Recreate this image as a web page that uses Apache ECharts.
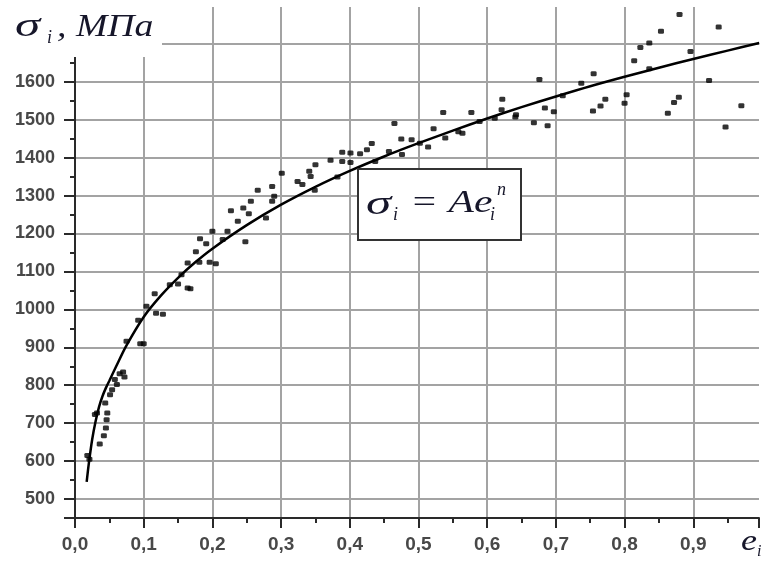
<!DOCTYPE html>
<html>
<head>
<meta charset="utf-8">
<script src="https://cdn.jsdelivr.net/npm/echarts@6/dist/echarts.min.js"></script>
<style>
  html, body { margin: 0; padding: 0; background: #fff; }
  #main { width: 762px; height: 561px; }
</style>
</head>
<body>
<div id="main"></div>
<script>
// точки эксперимента: интенсивность деформаций e_i
const pointStrain = [
  0.018, 0.021, 0.029, 0.032, 0.036, 0.042, 0.045, 0.046, 0.047, 0.044,
  0.051, 0.054, 0.058, 0.061, 0.065, 0.070, 0.072, 0.075, 0.092, 0.095,
  0.100, 0.104, 0.116, 0.118, 0.128, 0.138, 0.150, 0.155, 0.164, 0.168,
  0.164, 0.176, 0.182, 0.191, 0.181, 0.196, 0.205, 0.200, 0.215, 0.222,
  0.227, 0.237, 0.245, 0.248, 0.253, 0.256, 0.266, 0.278, 0.287, 0.290,
  0.287, 0.301, 0.324, 0.331, 0.341, 0.343, 0.350, 0.349, 0.372, 0.382,
  0.389, 0.389, 0.401, 0.401, 0.415, 0.425, 0.432, 0.437, 0.457, 0.465,
  0.475, 0.476, 0.490, 0.502, 0.514, 0.522, 0.536, 0.539, 0.558, 0.564,
  0.577, 0.589, 0.611, 0.622, 0.621, 0.642, 0.641, 0.668, 0.676, 0.684,
  0.688, 0.697, 0.710, 0.737, 0.755, 0.754, 0.765, 0.772, 0.800, 0.803,
  0.814, 0.823, 0.836, 0.836, 0.853, 0.863, 0.872, 0.879, 0.880, 0.896,
  0.923, 0.937, 0.947, 0.970
];
// интенсивность напряжений sigma_i, МПа
const pointStress = [
  615, 605, 723, 727, 645, 667, 687, 709, 727, 753,
  775, 788, 815, 802, 830, 835, 822, 916, 971, 909,
  909, 1008, 1041, 990, 987, 1065, 1067, 1091, 1056, 1054,
  1122, 1152, 1186, 1173, 1124, 1124, 1120, 1206, 1184, 1206,
  1260, 1232, 1267, 1178, 1252, 1285, 1314, 1241, 1324, 1298,
  1285, 1359, 1337, 1329, 1364, 1350, 1381, 1314, 1393, 1349,
  1414, 1390, 1412, 1387, 1410, 1421, 1437, 1390, 1416, 1490,
  1449, 1408, 1447, 1438, 1428, 1476, 1519, 1452, 1468, 1464,
  1519, 1495, 1504, 1554, 1526, 1513, 1507, 1492, 1606, 1531,
  1484, 1521, 1563, 1596, 1621, 1523, 1536, 1554, 1543, 1566,
  1655, 1690, 1702, 1634, 1733, 1517, 1545, 1559, 1777, 1680,
  1603, 1744, 1481, 1537
];
// аппроксимирующая кривая
const curveStrain = [0.017, 0.020, 0.025, 0.030, 0.035, 0.040, 0.045, 0.050, 0.060, 0.075,
  0.100, 0.125, 0.150, 0.175, 0.200, 0.250, 0.300, 0.350, 0.400, 0.450,
  0.500, 0.550, 0.600, 0.650, 0.700, 0.750, 0.800, 0.850, 0.900, 0.950, 0.996];
const curveStress = [545, 592, 657, 705, 743, 771, 793, 812, 850, 905,
  980, 1036, 1083, 1124, 1160, 1222, 1276, 1323, 1365, 1403,
  1438, 1471, 1503, 1533, 1561, 1588, 1613, 1637, 1660, 1682, 1702];

const myChart = echarts.init(document.getElementById('main'));

const scatterData = pointStrain.map((v, k) => [v, pointStress[k]]);
const curveData = curveStrain.map((v, k) => [v, curveStress[k]]);

const gridColor = '#a3a3a3';
const axisColor = '#2a2a2a';
const serif = 'Liberation Serif';
const ink = '#16162a';

myChart.setOption({
  animation: false,
  grid: { left: 75, right: 0, top: 7, bottom: 43 },
  xAxis: {
    type: 'value',
    min: 0,
    max: 0.9957,
    interval: 0.1,
    axisLine: { show: true, lineStyle: { color: axisColor, width: 2 } },
    axisTick: { show: true, inside: false, length: 10, lineStyle: { color: axisColor, width: 2 } },
    minorTick: { show: true, splitNumber: 2, length: 5, lineStyle: { color: axisColor, width: 2 } },
    splitLine: { show: true, showMaxLine: false, lineStyle: { color: gridColor, width: 2 } },
    axisLabel: {
      margin: 17,
      fontSize: 19,
      fontWeight: 'bold',
      fontFamily: 'Liberation Sans',
      color: '#484848',
      formatter: (v) => (v > 0.95 ? '' : v.toFixed(1).replace('.', ',')),
    },
  },
  yAxis: [
    {
      type: 'value',
      min: 450,
      max: 1797,
      minInterval: 100,
      maxInterval: 100,
      axisLine: { show: true, lineStyle: { color: axisColor, width: 2 } },
      axisTick: { show: true, inside: false, length: 11, lineStyle: { color: axisColor, width: 2 } },
      splitLine: { show: true, showMinLine: false, showMaxLine: false, lineStyle: { color: gridColor, width: 2 } },
      axisLabel: {
        margin: 20,
        fontSize: 18,
        fontWeight: 'bold',
        fontFamily: 'Liberation Sans',
        color: '#484848',
        formatter: (v) => (v % 100 === 0 && v <= 1600 ? String(v) : ''),
      },
    },
    {
      // короткие промежуточные риски через 50 МПа
      type: 'value',
      min: 450,
      max: 1797,
      interval: 50,
      position: 'left',
      axisLine: { show: false },
      axisTick: { show: true, inside: false, length: 5, lineStyle: { color: axisColor, width: 2 } },
      splitLine: { show: false },
      axisLabel: { show: false },
    },
  ],
  series: [
    {
      type: 'scatter',
      data: scatterData,
      symbol: 'roundRect',
      symbolSize: [6, 5],
      itemStyle: { color: '#000' },
      z: 3,
    },
    {
      type: 'line',
      data: curveData,
      smooth: 0.3,
      showSymbol: false,
      lineStyle: { color: '#000', width: 2.5 },
      z: 4,
    },
  ],
  graphic: [
    // белая подложка под подписью оси
    { type: 'rect', shape: { x: 0, y: 0, width: 162, height: 57 }, style: { fill: '#fff' }, z: 100 },
    { type: 'text', x: 15, y: 10, scaleX: 1.5, z: 101,
      style: { text: 'σ', font: `italic 34px "${serif}"`, fill: ink } },
    { type: 'text', x: 47, y: 29, z: 101,
      style: { text: 'i', font: `italic 18px "${serif}"`, fill: ink } },
    { type: 'text', x: 57, y: 12, scaleX: 1.18, z: 101,
      style: { text: ', МПа', font: `italic 32px "${serif}"`, fill: ink } },
    // рамка с формулой
    { type: 'rect', shape: { x: 358, y: 169, width: 163, height: 71 },
      style: { fill: '#fff', stroke: '#333', lineWidth: 2 }, z: 100 },
    { type: 'text', x: 366, y: 188, scaleX: 1.5, z: 101,
      style: { text: 'σ', font: `italic 34px "${serif}"`, fill: ink } },
    { type: 'text', x: 393, y: 206, z: 101,
      style: { text: 'i', font: `italic 18px "${serif}"`, fill: ink } },
    { type: 'text', x: 410, y: 188, scaleX: 1.3, z: 101,
      style: { text: '= Ae', font: `italic 32px "${serif}"`, fill: ink } },
    { type: 'text', x: 490, y: 206, z: 101,
      style: { text: 'i', font: `italic 18px "${serif}"`, fill: ink } },
    { type: 'text', x: 497, y: 181, z: 101,
      style: { text: 'n', font: `italic 18px "${serif}"`, fill: ink } },
    // подпись оси абсцисс
    { type: 'text', x: 741, y: 527, scaleX: 1.2, z: 101,
      style: { text: 'e', font: `italic 30px "${serif}"`, fill: ink } },
    { type: 'text', x: 757, y: 544, z: 101,
      style: { text: 'i', font: `italic 16px "${serif}"`, fill: ink } },
  ],
});
</script>
</body>
</html>
